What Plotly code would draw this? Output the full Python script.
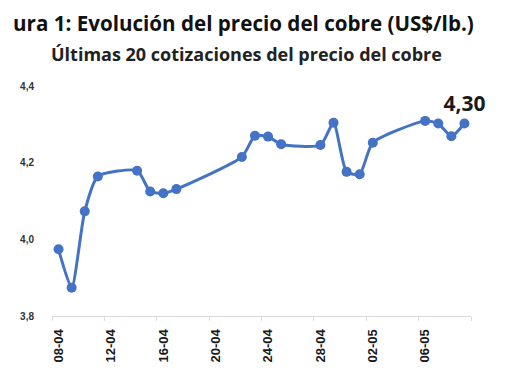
import plotly.graph_objects as go
import pandas as pd

dates = ["2025-04-08", "2025-04-09", "2025-04-10", "2025-04-11", "2025-04-14",
         "2025-04-15", "2025-04-16", "2025-04-17", "2025-04-22", "2025-04-23",
         "2025-04-24", "2025-04-25", "2025-04-28", "2025-04-29", "2025-04-30",
         "2025-05-01", "2025-05-02", "2025-05-06", "2025-05-07", "2025-05-08",
         "2025-05-09"]
prices = [3.974, 3.874, 4.073, 4.164, 4.179, 4.125, 4.120, 4.131, 4.215, 4.270,
          4.268, 4.248, 4.246, 4.304, 4.176, 4.170, 4.252, 4.309, 4.302, 4.269,
          4.302]
tick_dates = ["2025-04-08", "2025-04-12", "2025-04-16", "2025-04-20", "2025-04-24",
              "2025-04-28", "2025-05-02", "2025-05-06"]
tick_labels = ["08-04", "12-04", "16-04", "20-04", "24-04", "28-04", "02-05", "06-05"]
# the reference image is cropped at the left edge; only this part of the title is visible
title_text = "ura 1: Evolución del precio del cobre (US$/lb.)"
subtitle_text = "Últimas 20 cotizaciones del precio del cobre"

# Excel date axis: points sit in the middle of each day
x_mid = pd.to_datetime(dates) + pd.Timedelta(hours=12)
tick_mid = pd.to_datetime(tick_dates) + pd.Timedelta(hours=12)

labels = [""] * (len(prices) - 1) + [f"{prices[-1]:.2f}".replace(".", ",")]

# the page body adds an 8px offset; figure is sized so it fits the 510x382 window
W, H = 502, 374
L, R, T, B = 42, 39, 78, 66
pw, ph = W - L - R, H - T - B

color = "#4472C4"
fig = go.Figure()
fig.add_trace(go.Scatter(
    x=x_mid, y=prices, mode="lines+markers+text",
    line=dict(color=color, width=3, shape="spline", smoothing=0.6),
    marker=dict(color=color, size=10),
    text=labels, textposition="top center",
    textfont=dict(family="Open Sans", size=21, color="#1a1a1a", weight="bold"),
    showlegend=False, cliponaxis=False,
))

fig.update_layout(
    width=W, height=H,
    margin=dict(l=L, r=R, t=T, b=B),
    paper_bgcolor="white", plot_bgcolor="white",
    separators=",.",
    font=dict(family="Open Sans", color="#1a1a1a"),
    annotations=[
        dict(text=f"<b>{title_text}</b>", xref="paper", yref="paper",
             x=(2 - L) / pw, y=1 + T / ph, xanchor="left", yanchor="top",
             borderpad=0, showarrow=False,
             font=dict(family="Open Sans", size=20.6, color="#111111")),
        dict(text=f"<b>{subtitle_text}</b>", xref="paper", yref="paper",
             x=(237 - L) / pw, y=1 + (T - 46) / ph, xanchor="center", yanchor="middle",
             showarrow=False, font=dict(family="Open Sans", size=18, color="#222222")),
    ],
)
fig.update_xaxes(
    type="date", range=["2025-04-08", "2025-05-10"],
    tickvals=tick_mid, ticktext=tick_labels, tickangle=-90,
    ticks="", ticklabelstandoff=7,
    tickfont=dict(family="Liberation Sans", size=13, color="#1a1a1a", weight="bold"),
    showline=True, linecolor="#d9d9d9", linewidth=1,
    showgrid=False, zeroline=False,
    minor=dict(tickvals=pd.to_datetime(tick_dates + ["2025-05-10"]), ticks="outside",
               ticklen=4, tickcolor="#d9d9d9", showgrid=False),
)
fig.update_yaxes(
    range=[3.8, 4.4], tickvals=[3.8, 4.0, 4.2, 4.4], tickformat=".1f",
    showgrid=False, zeroline=False, showline=False, ticks="",
    ticklabelstandoff=17,
    tickfont=dict(family="Liberation Sans", size=10, color="#333333", weight="bold"),
)

fig.write_html("out.html")
